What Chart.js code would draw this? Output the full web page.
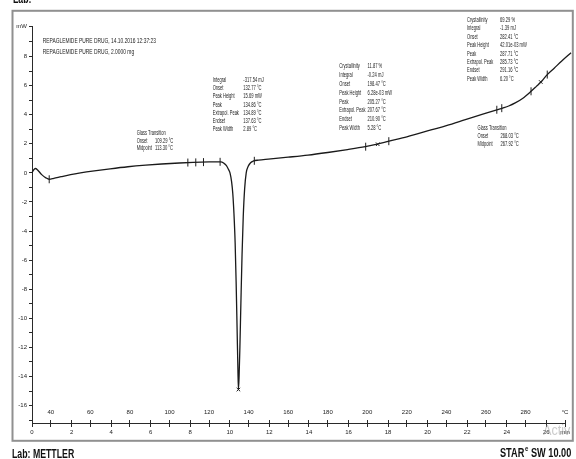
<!DOCTYPE html>
<html>
<head>
<meta charset="utf-8">
<script src="https://cdn.jsdelivr.net/npm/chart.js@4/dist/chart.umd.min.js"></script>
<style>
  html, body { margin: 0; padding: 0; background: #ffffff; }
  #wrap { width: 576px; height: 459px; position: relative; }
  canvas { display: block; }
</style>
</head>
<body>
<div id="wrap"><canvas id="dsc" width="576" height="459"></canvas></div>
<script>
// DSC heating run of repaglinide: heat flow (mW) against sample temperature (°C)
const curveTemps = [30.5, 31.2, 32.3, 33.2, 35.4, 37.5, 39.2, 41.5, 45.3, 50, 55, 62, 70, 79, 88, 96, 105, 112, 120, 126,
  127.5, 128.8, 129.8, 130.6, 131.4, 132.0, 132.6, 133.2, 133.7, 134.2, 134.6, 134.86, 135.2, 135.6, 136.1, 136.7, 137.3,
  138.0, 138.8, 139.8, 141.0, 142.5, 145, 150, 160, 170, 180, 190, 199, 205, 211, 220, 232.7, 240, 249.6, 258, 265.5,
  268.4, 271.5, 274.8, 278.5, 282.8, 285.5, 288.2, 291, 294.5, 298.2, 303];
const curveHeatFlow = [0.00, 0.18, 0.30, 0.22, -0.12, -0.34, -0.44, -0.38, -0.26, -0.12, 0.00, 0.14, 0.28, 0.42, 0.53, 0.61, 0.68, 0.72, 0.75, 0.76,
  0.66, 0.50, 0.25, 0.00, -0.60, -1.40, -2.80, -4.80, -7.50, -10.8, -13.5, -14.9, -14.0, -12.0, -9.0, -5.6, -3.0,
  -1.1, 0.0, 0.45, 0.70, 0.82, 0.88, 0.95, 1.08, 1.22, 1.40, 1.60, 1.80, 1.97, 2.18, 2.48, 2.97, 3.25, 3.66, 4.02, 4.34,
  4.46, 4.60, 4.81, 5.12, 5.61, 5.95, 6.30, 6.76, 7.20, 7.68, 8.26];

// evaluation limits / onset marks on the curve
const limitTemps = [39.2, 109.29, 113.30, 117.2, 125.6, 142.9, 199.2, 210.9, 265.5, 268.0, 282.8, 291.0];
const limitHeatFlow = [-0.44, 0.71, 0.72, 0.74, 0.76, 0.83, 1.80, 2.18, 4.34, 4.45, 5.61, 6.76];

// evaluated peak positions
const peakTemps = [134.86, 205.27, 287.71];
const peakHeatFlow = [-14.9, 1.97, 6.25];

// axis ticks
const tempTicks = [40, 60, 80, 100, 120, 140, 160, 180, 200, 220, 240, 260, 280, 300];
const tempTickLabels = ['40', '60', '80', '100', '120', '140', '160', '180', '200', '220', '240', '260', '280', '°C'];
const timeTicks = [0, 2, 4, 6, 8, 10, 12, 14, 16, 18, 20, 22, 24, 26, 26.95];
const timeTickLabels = ['0', '2', '4', '6', '8', '10', '12', '14', '16', '18', '20', '22', '24', '26', 'min'];
const hfTicks = [-17, -16, -15, -14, -13, -12, -11, -10, -9, -8, -7, -6, -5, -4, -3, -2, -1, 0, 1, 2, 3, 4, 5, 6, 7, 8, 9, 10.1];
const hfTickLabels = ['', '-16', '', '-14', '', '-12', '', '-10', '', '-8', '', '-6', '', '-4', '', '-2', '', '0', '', '2', '', '4', '', '6', '', '8', '', 'mW'];

// annotation texts
const headerLines = ['REPAGLEMIDE PURE DRUG, 14.10.2016 12:37:23', 'REPAGLEMIDE PURE DRUG, 2.0000 mg'];
const glassTransition1 = [['Glass Transition', ''], ['Onset', '109.29 °C'], ['Midpoint', '113.30 °C']];
const meltingPeak = [['Integral', '-317.54 mJ'], ['Onset', '132.77 °C'], ['Peak Height', '15.69 mW'], ['Peak', '134.86 °C'],
  ['Extrapol. Peak', '134.89 °C'], ['Endset', '137.63 °C'], ['Peak Width', '2.89 °C']];
const crystallinity1 = [['Crystallinity', '11.87 %'], ['Integral', '-0.24 mJ'], ['Onset', '198.47 °C'], ['Peak Height', '6.28e-03 mW'],
  ['Peak', '205.27 °C'], ['Extrapol. Peak', '207.67 °C'], ['Endset', '210.90 °C'], ['Peak Width', '5.28 °C']];
const crystallinity2 = [['Crystallinity', '69.29 %'], ['Integral', '-1.39 mJ'], ['Onset', '282.41 °C'], ['Peak Height', '42.01e-03 mW'],
  ['Peak', '287.71 °C'], ['Extrapol. Peak', '285.73 °C'], ['Endset', '291.16 °C'], ['Peak Width', '6.20 °C']];
const glassTransition2 = [['Glass Transition', ''], ['Onset', '268.03 °C'], ['Midpoint', '267.92 °C']];
const labName = 'Lab: METTLER';
const swName = ['STAR', 'e', ' SW 10.00'];

const INK = '#1c1c1c';
const FAMILY = "'Liberation Sans', Arial, sans-serif";
const TICK_FONT = { family: "'Liberation Sans Narrow', 'Liberation Sans', Arial, sans-serif", size: 6 };

function zip(xs, ys) { return xs.map((x, i) => ({ x: x, y: ys[i] })); }

function squeezedText(c, str, x, y, size, weight, sx, baseline) {
  c.save();
  c.font = weight + ' ' + size + 'px ' + FAMILY;
  c.textBaseline = baseline || 'middle';
  c.textAlign = 'left';
  c.translate(x, y);
  c.scale(sx, 1);
  c.fillText(str, 0, 0);
  const w = c.measureText(str).width * sx;
  c.restore();
  return w;
}

function drawBlock(c, rows, lx, vx, top, step) {
  rows.forEach((r, i) => {
    const y = top + i * step;
    squeezedText(c, r[0], lx, y, 7.2, 'normal', 0.56);
    if (r[1]) squeezedText(c, r[1], vx, y, 7.2, 'normal', 0.57);
  });
}

const decor = {
  id: 'decor',
  beforeDraw(chart) {
    const c = chart.ctx;
    c.save();
    c.fillStyle = '#ffffff';
    c.fillRect(0, 0, chart.width, chart.height);
    c.strokeStyle = '#909090';
    c.lineWidth = 2;
    c.strokeRect(12.5, 10.8, 560.3, 430);
    c.restore();
  },
  afterDraw(chart) {
    const c = chart.ctx;
    c.save();
    c.fillStyle = INK;
    headerLines.forEach((t, i) => squeezedText(c, t, 42.7, 40.7 + i * 11, 7.2, 'normal', 0.68));
    drawBlock(c, glassTransition1, 136.7, 155, 133.3, 7.6);
    drawBlock(c, meltingPeak, 212.7, 243.3, 80, 8.2);
    drawBlock(c, crystallinity1, 339.3, 367.5, 66, 8.9);
    drawBlock(c, crystallinity2, 467, 500, 20, 8.4);
    drawBlock(c, glassTransition2, 477.5, 500.5, 128.3, 8.0);

    // footer
    c.fillStyle = '#111111';
    squeezedText(c, labName, 12, 458.3, 12.5, 'bold', 0.7, 'alphabetic');
    squeezedText(c, 'Lab:', 13, 3, 12.5, 'bold', 0.7, 'alphabetic');
    let x = 500;
    x += squeezedText(c, swName[0], x, 456.7, 13.5, 'bold', 0.68, 'alphabetic');
    x += squeezedText(c, swName[1], x + 0.8, 450.5, 7.5, 'bold', 0.8, 'alphabetic') + 0.8;
    squeezedText(c, swName[2], x, 456.7, 13.5, 'bold', 0.68, 'alphabetic');

    c.fillStyle = 'rgba(160,160,160,0.55)';
    squeezedText(c, 'Activ', 543, 435, 14, 'normal', 0.9, 'alphabetic');
    c.restore();
  }
};

new Chart(document.getElementById('dsc'), {
  type: 'scatter',
  data: {
    datasets: [
      {
        type: 'line',
        data: zip(curveTemps, curveHeatFlow),
        xAxisID: 'x', yAxisID: 'y',
        borderColor: '#1a1a1a',
        borderWidth: 1.3,
        pointRadius: 0,
        cubicInterpolationMode: 'monotone',
        clip: false,
        order: 2
      },
      {
        data: zip(limitTemps, limitHeatFlow),
        xAxisID: 'x', yAxisID: 'y',
        pointStyle: 'line',
        rotation: 90,
        pointRadius: 4,
        borderColor: '#1e1e1e',
        borderWidth: 1,
        order: 1
      },
      {
        data: zip(peakTemps, peakHeatFlow),
        xAxisID: 'x', yAxisID: 'y',
        pointStyle: 'crossRot',
        pointRadius: 2.5,
        borderColor: '#1e1e1e',
        borderWidth: 1,
        order: 1
      }
    ]
  },
  options: {
    responsive: false,
    animation: false,
    devicePixelRatio: 1,
    layout: { padding: { left: 0, right: 9, top: 26, bottom: 0 } },
    plugins: { legend: { display: false }, tooltip: { enabled: false } },
    scales: {
      x: {
        type: 'linear', axis: 'x',
        position: { y: -16.97 },
        min: 30.5, max: 300,
        afterBuildTicks: s => { s.ticks = tempTicks.map(v => ({ value: v })); },
        ticks: {
          autoSkip: false, maxRotation: 0, padding: -17.6,
          font: TICK_FONT, color: INK,
          callback: (v, i) => tempTickLabels[i]
        },
        grid: { display: true, drawOnChartArea: false, drawTicks: true, tickLength: 7, color: '#2a2a2a', tickWidth: 1 },
        border: { display: false }
      },
      xtm: {
        type: 'linear', axis: 'x',
        position: { y: -16.97 },
        min: 0, max: 26.95,
        afterBuildTicks: s => { s.ticks = timeTicks.slice(0, -1).map(v => ({ value: v })); },
        ticks: { display: false },
        grid: { display: true, drawOnChartArea: false, drawTicks: true, tickLength: 7, color: '#2a2a2a', tickWidth: 1 },
        border: { display: false }
      },
      xt: {
        type: 'linear', axis: 'x',
        position: 'bottom',
        min: 0, max: 26.95,
        afterBuildTicks: s => { s.ticks = timeTicks.map(v => ({ value: v })); },
        afterFit: s => { s.height = 36; },
        ticks: {
          autoSkip: false, maxRotation: 0, padding: 6.1,
          font: TICK_FONT, color: INK,
          callback: (v, i) => timeTickLabels[i]
        },
        grid: { display: false, drawTicks: false },
        border: { display: true, color: '#2a2a2a', width: 1 }
      },
      y: {
        type: 'linear', axis: 'y',
        position: 'left',
        min: -17.2, max: 10.1,
        afterBuildTicks: s => { s.ticks = hfTicks.map(v => ({ value: v })); },
        afterFit: s => { s.width = 32; },
        ticks: {
          autoSkip: false, padding: 2,
          font: TICK_FONT, color: INK,
          callback: (v, i) => hfTickLabels[i]
        },
        grid: { display: true, drawOnChartArea: false, drawTicks: true, tickLength: 3, color: '#2a2a2a' },
        border: { display: true, color: '#2a2a2a', width: 1 }
      }
    }
  },
  plugins: [decor]
});
</script>
</body>
</html>
